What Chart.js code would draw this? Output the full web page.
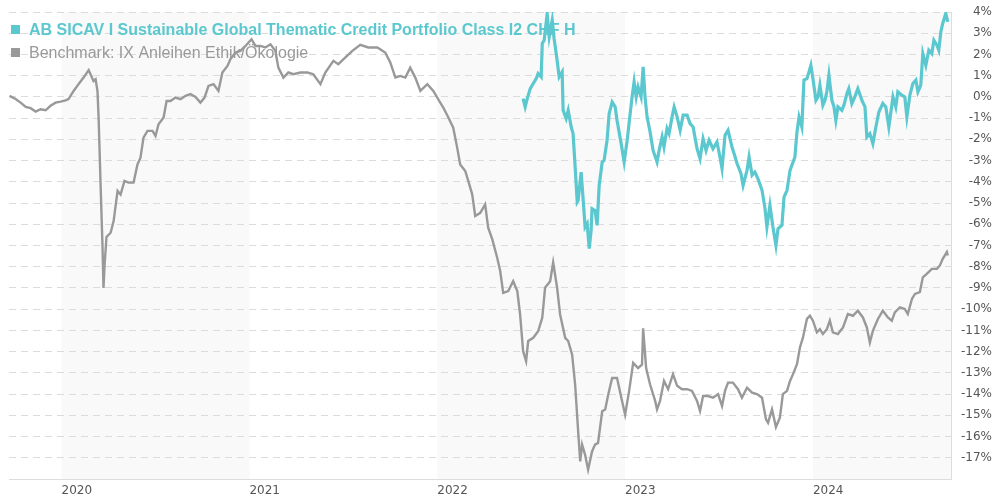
<!DOCTYPE html>
<html>
<head>
<meta charset="utf-8">
<script src="https://cdn.jsdelivr.net/npm/chart.js@4"></script>
<style>
  html, body { margin: 0; padding: 0; background: #fff; }
  #wrap { width: 992px; height: 500px; position: relative; }
</style>
</head>
<body>
<div id="wrap"><canvas id="perfChart"></canvas></div>
<script>
// legend names
const fundName = 'AB SICAV I Sustainable Global Thematic Credit Portfolio Class I2 CHF H';
const benchName = 'Benchmark: IX Anleihen Ethik/Ökologie';

// years shown on the x axis, and the shaded years
const yearTicks = [2020, 2021, 2022, 2023, 2024];
const shadedYears = [2020, 2022, 2024];

// benchmark, dates as decimal years, values in %
const benchYears = [2019.723, 2019.755, 2019.782, 2019.809, 2019.835, 2019.862, 2019.888, 2019.915, 2019.941, 2019.968,
  2019.995, 2020.021, 2020.037, 2020.064, 2020.090, 2020.117, 2020.144, 2020.154, 2020.170, 2020.181,
  2020.191, 2020.197, 2020.207, 2020.218, 2020.223, 2020.229, 2020.239, 2020.261, 2020.277, 2020.298,
  2020.314, 2020.335, 2020.356, 2020.383, 2020.404, 2020.420, 2020.436, 2020.457, 2020.484, 2020.500,
  2020.516, 2020.543, 2020.559, 2020.580, 2020.606, 2020.633, 2020.660, 2020.686, 2020.713, 2020.739,
  2020.761, 2020.782, 2020.809, 2020.835, 2020.856, 2020.883, 2020.899, 2020.926, 2020.952, 2020.979,
  2021.011, 2021.032, 2021.059, 2021.085, 2021.112, 2021.138, 2021.154, 2021.181, 2021.207, 2021.234,
  2021.271, 2021.309, 2021.340, 2021.378, 2021.404, 2021.447, 2021.473, 2021.511, 2021.548, 2021.590,
  2021.633, 2021.681, 2021.723, 2021.750, 2021.777, 2021.803, 2021.830, 2021.856, 2021.883, 2021.910,
  2021.947, 2021.979, 2022.005, 2022.032, 2022.059, 2022.085, 2022.106, 2022.122, 2022.149, 2022.165,
  2022.186, 2022.202, 2022.229, 2022.255, 2022.271, 2022.293, 2022.319, 2022.335, 2022.351, 2022.378,
  2022.404, 2022.426, 2022.441, 2022.457, 2022.473, 2022.484, 2022.511, 2022.537, 2022.559, 2022.574,
  2022.601, 2022.617, 2022.638, 2022.654, 2022.681, 2022.697, 2022.718, 2022.734, 2022.750, 2022.761,
  2022.771, 2022.787, 2022.803, 2022.824, 2022.840, 2022.856, 2022.878, 2022.894, 2022.910, 2022.931,
  2022.957, 2022.984, 2023.000, 2023.021, 2023.043, 2023.069, 2023.090, 2023.096, 2023.112, 2023.133,
  2023.160, 2023.170, 2023.186, 2023.207, 2023.229, 2023.255, 2023.277, 2023.303, 2023.330, 2023.356,
  2023.383, 2023.399, 2023.415, 2023.441, 2023.468, 2023.495, 2023.516, 2023.532, 2023.548, 2023.574,
  2023.601, 2023.622, 2023.649, 2023.676, 2023.702, 2023.729, 2023.750, 2023.761, 2023.782, 2023.803,
  2023.824, 2023.840, 2023.862, 2023.878, 2023.894, 2023.915, 2023.931, 2023.947, 2023.968, 2023.984,
  2024.000, 2024.021, 2024.037, 2024.053, 2024.074, 2024.090, 2024.106, 2024.133, 2024.160, 2024.186,
  2024.213, 2024.239, 2024.266, 2024.287, 2024.303, 2024.319, 2024.346, 2024.372, 2024.399, 2024.420,
  2024.436, 2024.463, 2024.489, 2024.505, 2024.527, 2024.543, 2024.569, 2024.585, 2024.606, 2024.633,
  2024.660, 2024.676, 2024.691, 2024.713, 2024.718];
const benchValues = [0.05, -0.1, -0.27, -0.47, -0.53, -0.69, -0.58, -0.63, -0.42, -0.27,
  -0.22, -0.16, -0.1, 0.28, 0.6, 0.91, 1.26, 1.07, 0.75, 0.83,
  0.28, -0.97, -3.96, -7.1, -9.0, -7.9, -6.6, -6.4, -5.85, -4.43,
  -4.6, -3.96, -4.04, -4.04, -3.18, -2.86, -1.92, -1.6, -1.6, -1.84,
  -1.29, -0.97, -0.19, -0.19, -0.03, -0.11, 0.05, 0.13, 0, -0.27,
  -0.03, 0.52, 0.6, 0.28, 1.15, 1.46, 1.78, 2.09, 2.17, 2.4,
  2.72, 2.4, 2.4, 2.33, 2.48, 2.17, 1.38, 0.91, 1.15, 1.07,
  1.15, 1.15, 1.07, 0.6, 1.15, 1.7, 1.54, 1.86, 2.17, 2.45,
  2.33, 2.33, 2.09, 1.62, 0.91, 0.99, 0.91, 1.38, 0.91, 0.28,
  0.6, 0.28, -0.11, -0.5, -0.97, -1.45, -2.39, -3.18, -3.49, -3.96,
  -4.59, -5.61, -5.46, -5.06, -6.16, -6.71, -7.58, -8.2, -9.23, -9.15,
  -8.68, -9.15, -10.25, -11.98, -12.45, -11.5, -11.35, -11.04, -10.4, -8.99,
  -8.68, -7.8, -8.99, -10.25, -11.35, -11.5, -12.14, -13.55, -15.75, -17.17,
  -16.38, -16.86, -17.56, -16.7, -16.38, -16.3, -14.81, -14.73, -14.03, -13.24,
  -13.24, -14.34, -14.97, -13.87, -12.53, -12.77, -12.61, -10.9, -12.77, -13.55,
  -14.32, -14.72, -14.32, -13.38, -13.77, -13.06, -13.61, -13.77, -13.77, -13.85,
  -14.32, -14.8, -14.09, -14.09, -14.17, -14.0, -14.56, -13.85, -13.46, -13.46,
  -13.77, -14.17, -13.7, -13.93, -14.0, -14.17, -15.19, -15.35, -14.72, -15.55,
  -15.11, -14.0, -13.85, -13.38, -13.06, -12.59, -11.8, -11.33, -10.46, -10.31,
  -10.54, -11.09, -10.94, -11.17, -10.94, -10.54, -11.09, -11.17, -10.86, -10.23,
  -10.31, -10.07, -10.39, -10.86, -11.57, -11.02, -10.46, -10.07, -10.39, -10.54,
  -10.15, -9.91, -9.99, -10.23, -9.52, -9.28, -9.2, -8.5, -8.34, -8.1,
  -8.1, -7.94, -7.63, -7.31, -7.47];

// fund, dates as decimal years, values in %
const fundYears = [2022.457, 2022.468, 2022.479, 2022.495, 2022.511, 2022.527, 2022.537, 2022.553, 2022.559, 2022.569,
  2022.585, 2022.596, 2022.612, 2022.622, 2022.638, 2022.649, 2022.665, 2022.670, 2022.686, 2022.697,
  2022.713, 2022.723, 2022.734, 2022.745, 2022.750, 2022.766, 2022.777, 2022.787, 2022.798, 2022.809,
  2022.819, 2022.824, 2022.840, 2022.851, 2022.862, 2022.878, 2022.888, 2022.904, 2022.915, 2022.931,
  2022.947, 2022.957, 2022.979, 2022.995, 2023.011, 2023.027, 2023.037, 2023.048, 2023.059, 2023.069,
  2023.085, 2023.096, 2023.106, 2023.117, 2023.133, 2023.149, 2023.170, 2023.181, 2023.197, 2023.207,
  2023.223, 2023.234, 2023.250, 2023.261, 2023.277, 2023.293, 2023.309, 2023.330, 2023.346, 2023.362,
  2023.383, 2023.399, 2023.415, 2023.431, 2023.447, 2023.468, 2023.489, 2023.505, 2023.516, 2023.532,
  2023.548, 2023.569, 2023.580, 2023.596, 2023.617, 2023.628, 2023.649, 2023.660, 2023.676, 2023.691,
  2023.707, 2023.729, 2023.745, 2023.755, 2023.771, 2023.787, 2023.803, 2023.814, 2023.835, 2023.846,
  2023.862, 2023.878, 2023.904, 2023.915, 2023.926, 2023.941, 2023.952, 2023.968, 2023.979, 2023.989,
  2024.000, 2024.016, 2024.027, 2024.037, 2024.053, 2024.064, 2024.074, 2024.085, 2024.101, 2024.112,
  2024.122, 2024.133, 2024.154, 2024.165, 2024.181, 2024.191, 2024.207, 2024.223, 2024.239, 2024.261,
  2024.277, 2024.287, 2024.303, 2024.319, 2024.335, 2024.351, 2024.372, 2024.388, 2024.404, 2024.426,
  2024.441, 2024.452, 2024.473, 2024.489, 2024.500, 2024.516, 2024.532, 2024.548, 2024.559, 2024.574,
  2024.585, 2024.601, 2024.617, 2024.633, 2024.644, 2024.660, 2024.670, 2024.681, 2024.691, 2024.707,
  2024.718];
const fundValues = [-0.08, -0.47, -0.08, 0.39, 0.63, 0.86, 1.1, 0.94, 2.52, 2.67,
  3.9, 2.83, 3.62, 2.75, 1.73, 0.94, 1.18, -0.63, -1.02, -0.63,
  -1.42, -1.73, -3.3, -4.95, -4.87, -3.54, -4.87, -6.13, -5.97, -7.15,
  -6.29, -5.27, -5.35, -6.05, -4.17, -3.07, -2.99, -2.04, -0.79, -0.24,
  -0.47, -1.1, -2.2, -3.07, -2.04, -0.79, 0, 0.71, 0, 0.47,
  0, 1.42, 0, -0.94, -1.65, -2.52, -3.07, -2.52, -1.89, -2.36,
  -1.49, -1.73, -0.94, -0.47, -0.94, -1.57, -0.86, -0.86, -1.26, -1.42,
  -2.44, -2.91, -1.97, -2.52, -2.04, -2.44, -2.12, -2.83, -3.38, -1.81,
  -1.57, -2.36, -2.67, -3.14, -3.62, -4.17, -3.46, -2.83, -3.69, -3.54,
  -3.85, -4.4, -5.27, -6.13, -5.11, -6.13, -7.0, -6.21, -6.05, -4.72,
  -4.4, -3.46, -2.83, -1.65, -0.94, -1.42, 0.79, 0.86, 1.18, 1.49,
  0.86, -0.16, 0, 0.55, -0.39, -0.16, 0.24, 1.02, -0.16, -0.47,
  -1.1, -0.47, -0.63, -0.39, 0.16, 0.39, -0.31, 0, 0.39, -0.16,
  -0.47, -1.89, -1.73, -2.2, -1.42, -0.71, -0.31, -0.47, -1.42, 0,
  -0.47, 0.24, 0.08, 0, -0.94, 0.08, 0.63, 0.79, 0.24, 0.55,
  2.04, 1.49, 2.2, 2.04, 2.67, 2.44, 2.2, 3.07, 3.46, 3.93,
  3.54];

const fundColor = '#5bc8cf';
const benchColor = '#999999';

const toPoints = (xs, ys) => xs.map((x, i) => ({ x: x, y: ys[i] }));

// light grey band behind every other year
const yearBands = {
  id: 'yearBands',
  beforeDraw(chart) {
    const { ctx, chartArea, scales } = chart;
    ctx.save();
    ctx.fillStyle = '#f9f9f9';
    shadedYears.forEach(yr => {
      const x0 = Math.max(scales.x.getPixelForValue(yr), chartArea.left);
      const x1 = Math.min(scales.x.getPixelForValue(yr + 1), chartArea.right);
      if (x1 > x0) ctx.fillRect(x0, chartArea.top, x1 - x0, chartArea.bottom - chartArea.top);
    });
    ctx.restore();
  }
};

// legend sits inside the plot, under the lines
const innerLegend = {
  id: 'innerLegend',
  beforeDatasetsDraw(chart) {
    const ctx = chart.ctx;
    const rows = [
      { text: fundName, color: fundColor, font: 'bold 16px "Liberation Sans", Arial, sans-serif', y: 30 },
      { text: benchName, color: benchColor, font: '16px "Liberation Sans", Arial, sans-serif', y: 53 }
    ];
    ctx.save();
    ctx.textBaseline = 'middle';
    ctx.textAlign = 'left';
    rows.forEach(r => {
      ctx.fillStyle = r.color;
      ctx.fillRect(11, r.y - 5, 9, 9);
      ctx.font = r.font;
      ctx.fillText(r.text, 29, r.y + 1);
    });
    ctx.restore();
  }
};

const ctx = document.getElementById('perfChart').getContext('2d');
new Chart(ctx, {
  type: 'line',
  data: {
    datasets: [
      {
        label: fundName,
        data: toPoints(fundYears, fundValues),
        borderColor: fundColor,
        borderWidth: 3.2,
        pointRadius: 0,
        tension: 0
      },
      {
        label: benchName,
        data: toPoints(benchYears, benchValues),
        borderColor: benchColor,
        borderWidth: 2.4,
        pointRadius: 0,
        tension: 0
      }
    ]
  },
  options: {
    responsive: true,
    maintainAspectRatio: false,
    animation: false,
    parsing: false,
    layout: { padding: { left: 9, top: 12, right: 0, bottom: 0 } },
    plugins: {
      legend: { display: false },
      tooltip: { enabled: false }
    },
    scales: {
      x: {
        type: 'linear',
        min: 2019.72,
        max: 2024.735,
        afterBuildTicks: axis => { axis.ticks = yearTicks.map(v => ({ value: v })); },
        afterFit: axis => { axis.height = 21; },
        grid: { display: false, drawTicks: false },
        border: { display: true, color: '#dddddd' },
        ticks: {
          align: 'start',
          padding: 5,
          maxRotation: 0,
          autoSkip: false,
          color: '#555',
          font: { family: '"DejaVu Sans", Verdana, sans-serif', size: 12 },
          callback: v => String(v)
        }
      },
      y: {
        position: 'right',
        min: -18,
        max: 4,
        afterFit: axis => { axis.width = 41; },
        grid: { color: '#dcdcdc', drawTicks: false },
        border: { display: true, color: '#dddddd', dash: [7, 5] },
        ticks: {
          stepSize: 1,
          crossAlign: 'far',
          color: '#555',
          font: { family: '"DejaVu Sans", Verdana, sans-serif', size: 12 },
          callback: v => (v === -18 ? '' : v + '%')
        }
      }
    }
  },
  plugins: [yearBands, innerLegend]
});
</script>
</body>
</html>
